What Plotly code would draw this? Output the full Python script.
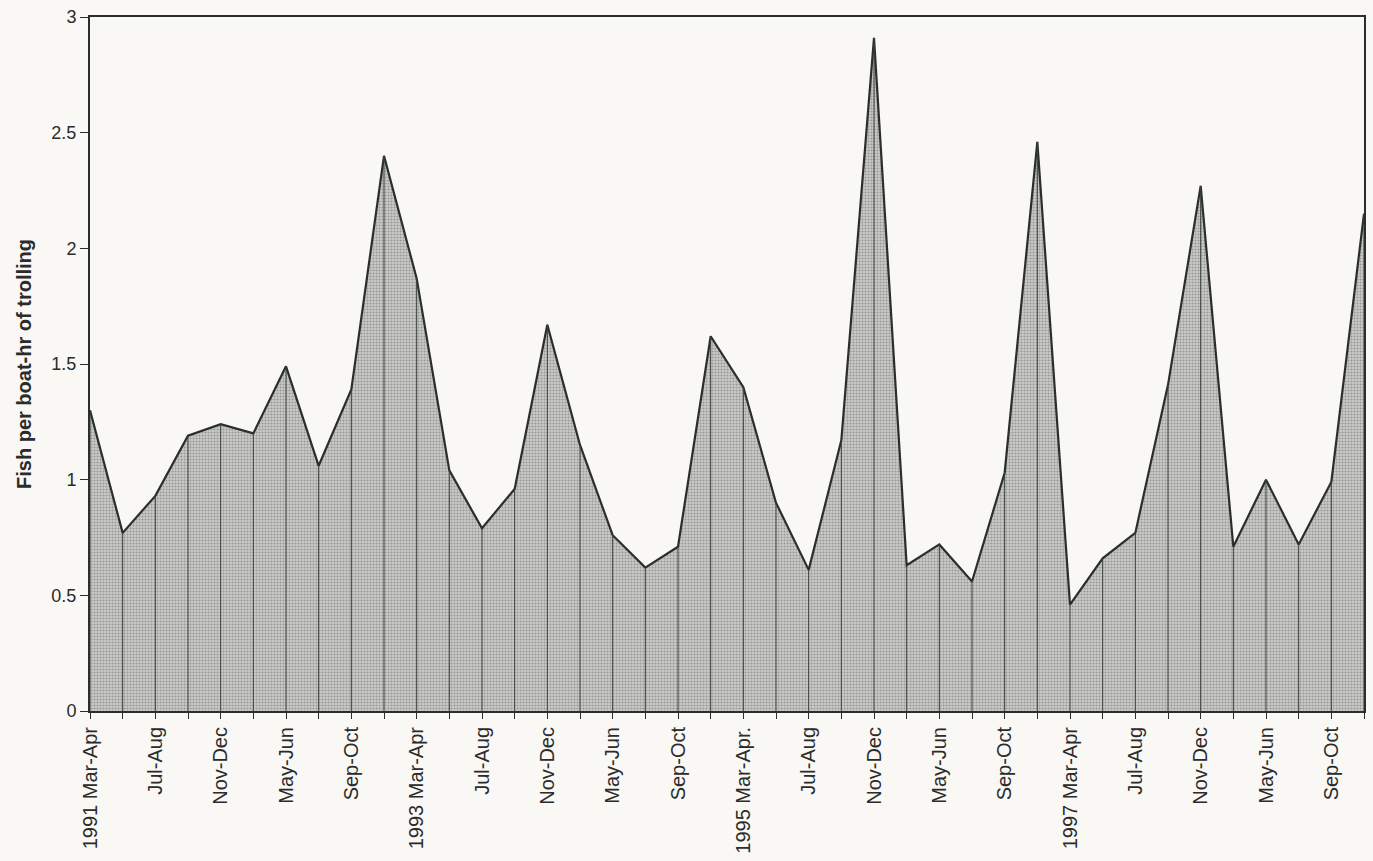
import plotly.graph_objects as go

# Catch rate per two-month sampling period, Mar-Apr 1991 onward (5 periods a year)
cpue = [
    1.30, 0.77, 0.93, 1.19, 1.24, 1.20, 1.49, 1.06, 1.39, 2.40,
    1.87, 1.04, 0.79, 0.96, 1.67, 1.15, 0.76, 0.62, 0.71, 1.62,
    1.40, 0.90, 0.61, 1.17, 2.91, 0.63, 0.72, 0.56, 1.03, 2.46,
    0.46, 0.66, 0.77, 1.41, 2.27, 0.71, 1.00, 0.72, 0.99, 2.15,
]

# Labels shown on every second period
tick_labels = [
    "1991 Mar-Apr", "Jul-Aug", "Nov-Dec", "May-Jun", "Sep-Oct",
    "1993 Mar-Apr", "Jul-Aug", "Nov-Dec", "May-Jun", "Sep-Oct",
    "1995 Mar-Apr.", "Jul-Aug", "Nov-Dec", "May-Jun", "Sep-Oct",
    "1997 Mar-Apr", "Jul-Aug", "Nov-Dec", "May-Jun", "Sep-Oct",
]

x = list(range(len(cpue)))
tick_pos = x[::2][:len(tick_labels)]

# Drop lines from the baseline up to each period's value
drop_x, drop_y = [], []
for xi, yi in zip(x, cpue):
    drop_x += [xi, xi, None]
    drop_y += [0, yi, None]

fig = go.Figure()
fig.add_trace(go.Scatter(
    x=x, y=cpue, mode="lines", fill="tozeroy",
    fillcolor="#c6c6c2",
    fillpattern=dict(shape=".", fgcolor="#666666", bgcolor="#cbcbc7",
                     size=3, solidity=0.4),
    line=dict(color="#2a2f2c", width=2.2),
    hoverinfo="skip", showlegend=False,
))
fig.add_trace(go.Scatter(
    x=drop_x, y=drop_y, mode="lines",
    line=dict(color="#3a403c", width=1),
    hoverinfo="skip", showlegend=False,
))

font_family = "Liberation Sans, Arial, sans-serif"

fig.update_layout(
    width=1373, height=861,
    margin=dict(l=90, r=7, t=15, b=150),
    paper_bgcolor="#f9f8f4",
    plot_bgcolor="#f9f8f4",
    font=dict(family=font_family, color="#2b2b2b", size=18),
    xaxis=dict(
        range=[0, 39], showgrid=False, zeroline=False,
        showline=True, linecolor="#2a2f2c", linewidth=2, mirror=True,
        tickmode="array", tickvals=tick_pos, ticktext=tick_labels,
        tickangle=-90, ticks="outside", ticklen=6, tickcolor="#2a2f2c",
        tickfont=dict(size=20),
        minor=dict(tickmode="linear", tick0=0, dtick=1, ticks="outside",
                   ticklen=6, tickcolor="#2a2f2c", showgrid=False),
    ),
    yaxis=dict(
        range=[0, 3], showgrid=False, zeroline=False,
        showline=True, linecolor="#2a2f2c", linewidth=2, mirror=True,
        tickmode="array", tickvals=[0, 0.5, 1, 1.5, 2, 2.5, 3],
        ticktext=["0", "0.5", "1", "1.5", "2", "2.5", "3"],
        ticks="outside", ticklen=8, tickcolor="#2a2f2c",
        tickfont=dict(size=18),
        title=dict(text="<b>Fish per boat-hr of trolling</b>",
                   font=dict(size=20), standoff=14),
    ),
)

fig.write_html("out.html")
